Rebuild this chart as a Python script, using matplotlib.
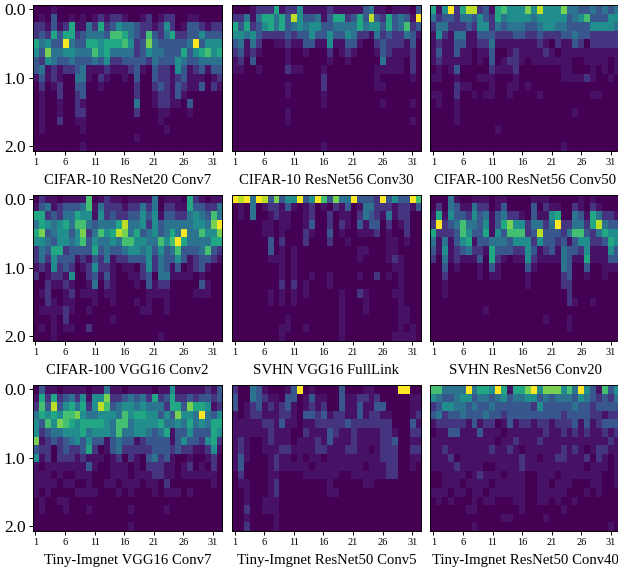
import numpy as np
import matplotlib
matplotlib.use("Agg")
import matplotlib.pyplot as plt

plt.rcParams['font.family'] = ['Liberation Serif', 'DejaVu Serif']

# one string per row, one digit per epoch, 0 = empty .. a = full (trailing zeros left out)
cifar10_res20 = [
    "0001000000 0000000000 0000000000 00",
    "0103001010 1212210012 0122001100 00",
    "2213126114 2623544322 1252013321 22",
    "2326366234 4437764327 3246223353 33",
    "64533a4336 6566675238 4333334a35 55",
    "5384455444 7564444235 4433363567 56",
    "3254334333 4352233332 4333543344 44",
    "3412122341 1121112310 3221531231 33",
    "1312100441 0210010300 3221231110 12",
    "0201200330 0100000200 2321321130 21",
    "0100200230 0000000200 1221310000 00",
    "0100100210 0000000400 1221103000 00",
    "0100100220 0000000200 0110001000 00",
    "0100200110 0000000000 0100000000 00",
    "0100000010 0000000000 0010000000 00",
    "0000000000 0000000100",
    "0000000010",
]
cifar10_res56 = [
    "0001222612 2511112111 1134110111 03",
    "2241466463 9533413662 3639326343 1a",
    "6362356463 4545533444 4645536347 23",
    "5545322223 2335335335 4221423224 31",
    "3414200112 1133115113 3100232221 30",
    "2312100001 0010002012 1000132111 20",
    "1203000001 0000001001 0000041110 20",
    "1100100002 1100010000 0000111110 20",
    "0000000000 0000020000 0000100000 10",
    "0000000001 0000020000 0000110000 00",
    "0000000001 0000010000",
    "0000000000 0000010000 0000010000 10",
    "0000000001",
    "0000000001 0000000000 0000000000 10",
    "",
    "",
    "0000000000 0000010000",
]
cifar100_res56 = [
    "615a269923 1675558595 5584433434 34",
    "4233244353 2645555455 5553457333 55",
    "2442223255 2434443345 5443333555 54",
    "1521441133 3222332232 2233433222 22",
    "1211331122 4111111121 0211320222 22",
    "1311311011 3001211112 1011111111 11",
    "1211111010 3012210111 1111001111 01",
    "0101300000 2111200000 0011000101 01",
    "1100100011 1000100000 0011112100 10",
    "0000211000 1001101000",
    "1100200101 1001000010 0000000110 00",
    "01001",
    "0000100000 0000000000 0000100000",
    "00001",
    "0000000000 01",
    "",
    "0000000000 0000000000 001",
]
cifar100_vgg = [
    "0211011117 0121101111 4011106210 11",
    "1341233347 1422212242 4022116332 24",
    "6623244655 1523223353 5133224543 74",
    "4654564774 3444694452 5344444554 8a",
    "6834553582 4756984634 53464a4475 58",
    "5543554573 5445477554 4757a64444 66",
    "2436623333 6343345545 3534733347 32",
    "2425333121 3241223335 2433531233 21",
    "1215232012 5221011025 2431301231 00",
    "2012215002 3131001123 0441111010 00",
    "0021121001 4021000103 1220000031 00",
    "0120012011 1011000001 1110000111 00",
    "0021011000 1001000101 001",
    "0111121001 0000000011 001",
    "0001020000 0001",
    "0101011002",
    "0001000000 0000000000 01",
]
svhn_vgg = [
    "a9a4a93835 5a35a73844 a3332a3533 a7",
    "0104012213 1012010213 0144222122 13",
    "0104001211 0012002011 0243214122 00",
    "0000011011 0013002021 0313302012 00",
    "0000011010 0021003010 0111201002 00",
    "0000003020 0020002001 0000001101 00",
    "0000003010 1000000000 0110001100 00",
    "0000001110 1000000000 0100001210 00",
    "0000000010 1000000000 0000000110 00",
    "0000000010 1001001000 0100201010 00",
    "0000000020 2010001000 0000000010 00",
    "0000001010 1010000010 0210000110 00",
    "0000001010 1000000010 0010000010 00",
    "0000000000 0000000010 0010000011 00",
    "0000000001 0000000010 0000000011 00",
    "0000000011 0010000010 0000000010 10",
    "0000000010 0000000010 0000000111 10",
]
svhn_res56 = [
    "0004100111 0110000111 0000010100 00",
    "0204311422 0130000302 1100210210 00",
    "1615332534 1342210311 5600431642 21",
    "2a23474435 1368552442 4a22442694 33",
    "6222375336 1537772393 3324773246 55",
    "4141356133 4443555253 3231355223 65",
    "3151234221 6333225312 3143325111 53",
    "2041211130 6210115211 1143116111 33",
    "0030100010 3100003100 0043003001 11",
    "0020000010 1100001000 0023001001 00",
    "0010000000 0000001000 0022",
    "0010000000 0000000000 0002",
    "0000000000 0000000000 0002100100",
    "0000000001",
    "0000000000 0000000001 0001",
    "0000000000 0000000000 0001",
    "",
]
tiny_vgg = [
    "0311011110 1141101111 0115111112 13",
    "1626234251 5582234342 6236223233 23",
    "2739356462 5973455454 4426638665 12",
    "4656577854 4555475665 53538554a4 35",
    "5375876566 6654774555 5644546454 66",
    "5234455564 5554744554 3461335333 65",
    "8123234535 3313433123 3331353325 62",
    "3220232236 2013422222 3332322112 51",
    "5120222121 1101202103 4231001001 20",
    "1011111113 1001110102 2211012010 20",
    "1110100111 0001110111 2211011111 10",
    "1111011001 0011011101 1020000000 10",
    "1010000111 1000101000 1011101000 00",
    "0100110000",
    "0100010001 0000001000 001",
    "",
    "0000000000 0000001",
]
tiny_res50_5 = [
    "2004310001 3a01000030 00110000aa 00",
    "3004321103 3013110031 1221200000 11",
    "3012312123 1012120031 1311330000 11",
    "1012211122 1033231221 1312211000 12",
    "1111122131 1011222223 2222222000 31",
    "1111112111 0021113211 2111122100 22",
    "1210012111 0111213111 2111122300 11",
    "1210011122 1111221112 2110122200 22",
    "1310001211 0101101111 1111122200 11",
    "1300001211 1110111111 1101112200 10",
    "0200001100 0011111100 1111112200 00",
    "0110001200 0000001000 0011",
    "0010001200 0000001100",
    "0010011100",
    "0020011100",
    "0010000100",
    "0020000100",
]
tiny_res50_40 = [
    "774444a466 5a61668a58 88574a5317 35",
    "5433455344 3453445534 3444354323 24",
    "2355443433 4333333253 3333433233 33",
    "3423343334 3323333333 3323333221 22",
    "1222221312 2013122122 1222313123 33",
    "0113311131 1101111112 1121212112 12",
    "1111111111 1011211121 1111111111 21",
    "1121111111 2112101111 1121210122 11",
    "1112011111 1111121101 1221112021 01",
    "1111211110 0111121111 1111110111 01",
    "0011110121 1101110011 1011111110 01",
    "0011101111 0111110011 0111000110 01",
    "1110110110 1111110011 1110001010 00",
    "0101000101 1000110011 0100100000 00",
    "0000001100 0000010000 001",
    "0000000000 0011000001",
    "0000000100 0000000000 0000000000 10",
]

panels = [cifar10_res20, cifar10_res56, cifar100_res56,
          cifar100_vgg, svhn_vgg, svhn_res56,
          tiny_vgg, tiny_res50_5, tiny_res50_40]
titles = ["CIFAR-10 ResNet20 Conv7", "CIFAR-10 ResNet56 Conv30", "CIFAR-100 ResNet56 Conv50",
          "CIFAR-100 VGG16 Conv2", "SVHN VGG16 FullLink", "SVHN ResNet56 Conv20",
          "Tiny-Imgnet VGG16 Conv7", "Tiny-Imgnet ResNet50 Conv5", "Tiny-Imgnet ResNet50 Conv40"]
x_ticks = [0, 5, 10, 15, 20, 25, 30]
x_labels = ["1", "6", "11", "16", "21", "26", "31"]
y_ticks = [0, 8, 16]
y_labels = ["0.0", "1.0", "2.0"]
# what each digit above stands for, as share of the colour range
levels = [0, 0.05, 0.15, 0.27, 0.38, 0.49, 0.6, 0.7, 0.8, 0.9, 1]


def to_grid(rows):
    grid = []
    for r in rows:
        r = r.replace(" ", "").ljust(32, "0")
        grid.append([levels[int(c, 16)] for c in r])
    return np.array(grid)


W, H = 618, 571
lefts = [32.5, 231.7, 430.4]
tops = [4.7, 194.7, 384.7]
ax_w, ax_h = 189.4, 146

fig = plt.figure(figsize=(W / 100, H / 100), dpi=100)
for i, rows in enumerate(panels):
    l, t = lefts[i % 3], tops[i // 3]
    ax = fig.add_axes([l / W, 1 - (t + ax_h) / H, ax_w / W, ax_h / H])
    ax.imshow(to_grid(rows), cmap="viridis", vmin=0, vmax=1, aspect="auto")
    ax.set_xticks(x_ticks)
    ax.set_xticklabels(x_labels, fontsize=7.5)
    ax.tick_params(axis="x", length=3, width=0.7, pad=2.5)
    ax.set_xlabel(titles[i], fontsize=10.6, labelpad=4.5)
    if i % 3 == 0:
        ax.set_yticks(y_ticks)
        ax.set_yticklabels(y_labels, fontsize=12.5)
        ax.tick_params(axis="y", length=3, width=0.7, pad=2)
    else:
        ax.set_yticks([])
    for s in ax.spines.values():
        s.set_linewidth(0.7)

fig.savefig("out.png", dpi=100)
